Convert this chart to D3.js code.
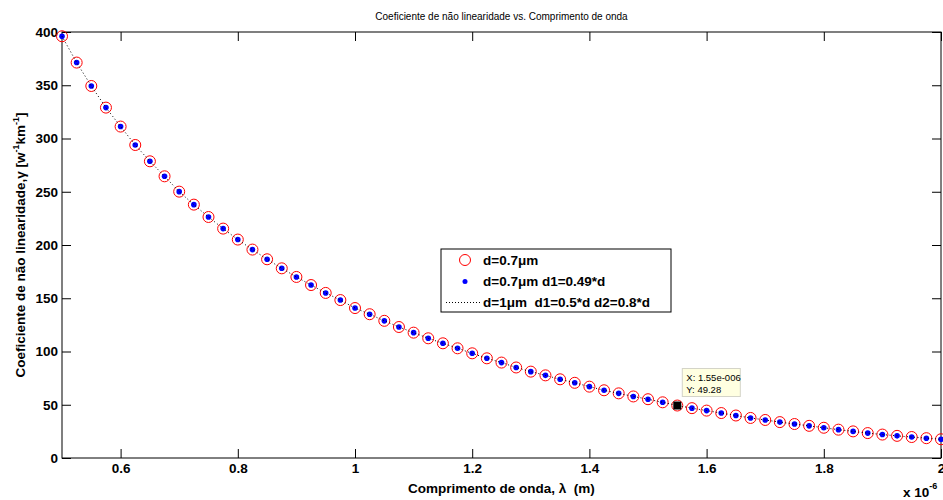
<!DOCTYPE html>
<html>
<head>
<meta charset="utf-8">
<script src="https://cdn.jsdelivr.net/npm/d3@7"></script>
<style>
  body { margin: 0; background: #fff; }
  svg { display: block; font-family: "Liberation Sans", Arial, sans-serif; }
  svg text { white-space: pre; }
  .axis text { font-size: 13.5px; font-weight: bold; fill: #000; }
  .axis line, .axis path { stroke: #000; }
</style>
</head>
<body>
<svg id="chart"></svg>
<script>
// wavelength in micrometres (axis shows x 10^-6 m)
const lambdaUm = [0.5, 0.525, 0.55, 0.575, 0.6, 0.625, 0.65, 0.675, 0.7, 0.725,
  0.75, 0.775, 0.8, 0.825, 0.85, 0.875, 0.9, 0.925, 0.95, 0.975,
  1.0, 1.025, 1.05, 1.075, 1.1, 1.125, 1.15, 1.175, 1.2, 1.225,
  1.25, 1.275, 1.3, 1.325, 1.35, 1.375, 1.4, 1.425, 1.45, 1.475,
  1.5, 1.525, 1.55, 1.575, 1.6, 1.625, 1.65, 1.675, 1.7, 1.725,
  1.75, 1.775, 1.8, 1.825, 1.85, 1.875, 1.9, 1.925, 1.95, 1.975, 2.0];

// nonlinear coefficient gamma [W^-1 km^-1]
const gamma = [396, 371.3, 349.3, 329.0, 311.2, 293.9, 278.6, 264.5, 250.1, 237.9,
  226.3, 215.4, 205.1, 195.7, 186.6, 178.1, 170.0, 162.4, 155.0, 148.3,
  140.8, 135.0, 128.8, 123.0, 117.7, 112.4, 107.7, 103.0, 98.3, 93.6,
  89.6, 85.0, 81.1, 77.6, 73.9, 70.6, 67.0, 63.6, 60.7, 57.8,
  55.2, 52.3, 49.28, 46.8, 44.5, 42.2, 39.9, 37.6, 35.7, 33.7,
  31.9, 30.2, 28.4, 26.6, 25.0, 23.4, 22.0, 20.8, 19.7, 18.6, 17.6];

const legendLabels = ["d=0.7\u03bcm", "d=0.7\u03bcm d1=0.49*d", "d=1\u03bcm  d1=0.5*d d2=0.8*d"];
const xTicks = [0.6, 0.8, 1, 1.2, 1.4, 1.6, 1.8, 2];
const yTicks = [0, 50, 100, 150, 200, 250, 300, 350, 400];
const tipIndex = 42; // 1.55e-006

const width = 943, height = 500;
const mLeft = 62, mRight = 941, mTop = 32, mBottom = 458;

const svg = d3.select("#chart").attr("width", width).attr("height", height);

const x = d3.scaleLinear().domain([0.5, 2]).range([mLeft, mRight]);
const y = d3.scaleLinear().domain([0, 400]).range([mBottom, mTop]);

const pts = lambdaUm.map((l, i) => ({ l: l, g: gamma[i] }));

// title
svg.append("text")
  .attr("x", (mLeft + mRight) / 2).attr("y", 20)
  .attr("text-anchor", "middle")
  .attr("font-size", "10px")
  .text("Coeficiente de não linearidade vs. Comprimento de onda");

// axes box
svg.append("rect")
  .attr("x", mLeft).attr("y", mTop)
  .attr("width", mRight - mLeft).attr("height", mBottom - mTop)
  .attr("fill", "none").attr("stroke", "#000");

svg.append("g").attr("class", "axis")
  .attr("transform", `translate(0,${mBottom})`)
  .call(d3.axisBottom(x).tickValues(xTicks).tickSizeInner(-9).tickSizeOuter(0).tickPadding(5)
    .tickFormat(d3.format("~g")))
  .call(g => g.select(".domain").remove());

svg.append("g").attr("class", "axis")
  .attr("transform", `translate(0,${mTop})`)
  .call(d3.axisTop(x).tickValues(xTicks).tickSizeInner(-9).tickSizeOuter(0).tickFormat(""))
  .call(g => g.select(".domain").remove());

svg.append("g").attr("class", "axis")
  .attr("transform", `translate(${mLeft},0)`)
  .call(d3.axisLeft(y).tickValues(yTicks).tickSizeInner(-9).tickSizeOuter(0).tickPadding(4))
  .call(g => g.select(".domain").remove());

svg.append("g").attr("class", "axis")
  .attr("transform", `translate(${mRight},0)`)
  .call(d3.axisRight(y).tickValues(yTicks).tickSizeInner(-9).tickSizeOuter(0).tickFormat(""))
  .call(g => g.select(".domain").remove());

// axis labels
svg.append("text")
  .attr("x", (mLeft + mRight) / 2).attr("y", 493)
  .attr("text-anchor", "middle")
  .attr("font-size", "13.5px").attr("font-weight", "bold")
  .text("Comprimento de onda, \u03bb  (m)");

const xe = svg.append("text")
  .attr("x", 903).attr("y", 497)
  .attr("font-size", "13.5px").attr("font-weight", "bold");
xe.append("tspan").text("x 10");
xe.append("tspan").attr("dy", -8).attr("font-size", "9px").text("-6");

const yl = svg.append("text")
  .attr("transform", `translate(25,${(mTop + mBottom) / 2}) rotate(-90)`)
  .attr("text-anchor", "middle")
  .attr("font-size", "13.5px").attr("font-weight", "bold");
yl.append("tspan").text("Coeficiente de não linearidade,\u03b3 [w");
yl.append("tspan").attr("dy", -6).attr("font-size", "9px").text("-1");
yl.append("tspan").attr("dy", 6).text("km");
yl.append("tspan").attr("dy", -6).attr("font-size", "9px").text("-1");
yl.append("tspan").attr("dy", 6).text("]");

// series 1: red open circles
svg.append("g").selectAll("circle")
  .data(pts).enter().append("circle")
  .attr("cx", d => x(d.l)).attr("cy", d => y(d.g))
  .attr("r", 5.5)
  .attr("fill", "none").attr("stroke", "#ff0000").attr("stroke-width", 1);

// series 2: blue dots
svg.append("g").selectAll("circle")
  .data(pts).enter().append("circle")
  .attr("cx", d => x(d.l)).attr("cy", d => y(d.g))
  .attr("r", 2.8)
  .attr("fill", "#0000ff");

// series 3: black dotted line
svg.append("path")
  .datum(pts)
  .attr("fill", "none").attr("stroke", "#000").attr("stroke-width", 1)
  .attr("stroke-dasharray", "1,2.5")
  .attr("d", d3.line().x(d => x(d.l)).y(d => y(d.g)));

// legend
const lg = svg.append("g").attr("transform", "translate(441,249)");
lg.append("rect").attr("width", 230).attr("height", 63)
  .attr("fill", "#fff").attr("stroke", "#000");
const rowY = [11, 32.5, 53.5];
lg.append("circle").attr("cx", 24).attr("cy", rowY[0]).attr("r", 5.5)
  .attr("fill", "none").attr("stroke", "#ff0000");
lg.append("circle").attr("cx", 24).attr("cy", rowY[1]).attr("r", 2.5)
  .attr("fill", "#0000ff");
lg.append("line").attr("x1", 5).attr("x2", 39).attr("y1", rowY[2]).attr("y2", rowY[2])
  .attr("stroke", "#000").attr("stroke-dasharray", "1,2");
lg.selectAll("text.lab").data(legendLabels).enter().append("text")
  .attr("class", "lab")
  .attr("x", 42).attr("y", (d, i) => rowY[i] + 4.5)
  .attr("font-size", "13.5px").attr("font-weight", "bold")
  .text(d => d);

// data tip
const tp = pts[tipIndex];
svg.append("rect")
  .attr("x", x(tp.l) - 4).attr("y", y(tp.g) - 4)
  .attr("width", 8).attr("height", 8)
  .attr("fill", "#000");
const tip = svg.append("g").attr("transform", `translate(${x(tp.l) + 5},${y(tp.g) - 37})`);
tip.append("rect").attr("width", 58).attr("height", 28)
  .attr("fill", "#ffffe1").attr("stroke", "#d4d4c8");
tip.append("text").attr("x", 4).attr("y", 12).attr("font-size", "9.5px")
  .text("X: " + "1.55e-006");
tip.append("text").attr("x", 4).attr("y", 24).attr("font-size", "9.5px")
  .text("Y: " + tp.g.toFixed(2));
</script>
</body>
</html>
